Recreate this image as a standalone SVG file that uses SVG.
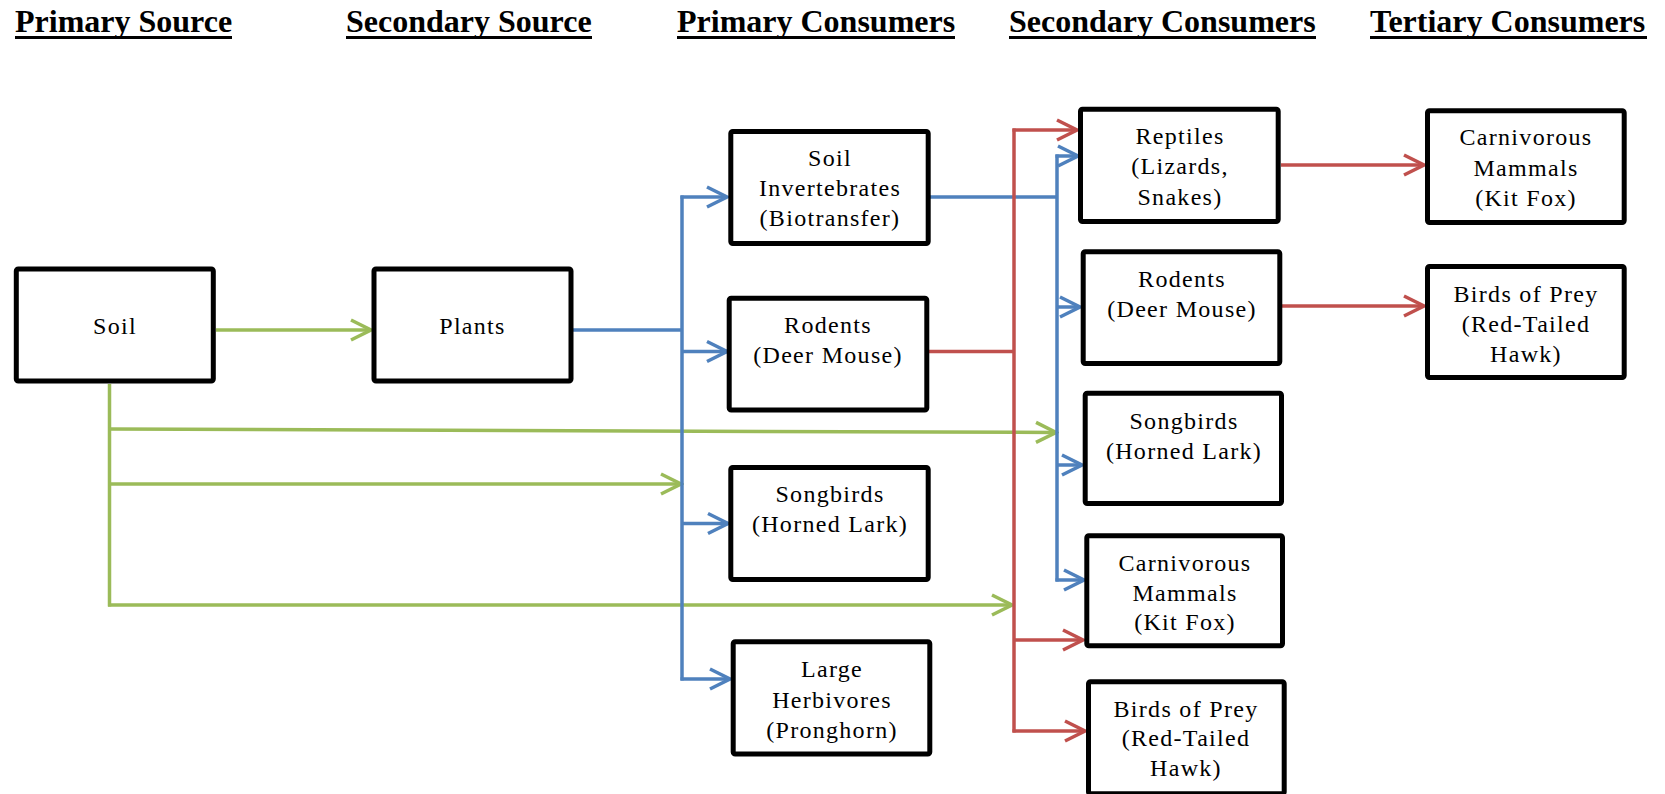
<svg xmlns="http://www.w3.org/2000/svg" width="1665" height="794" viewBox="0 0 1665 794">
<style>
.hdr{font-family:"Liberation Serif","Times New Roman",serif;font-size:32px;font-weight:bold;fill:#000}
.ul{stroke:#000;stroke-width:3}
.box{fill:#fff;stroke:#000;stroke-width:5}
.lbl{font-family:"Liberation Serif","Times New Roman",serif;font-size:24px;fill:#000;text-anchor:middle;letter-spacing:1.3px}
.g{stroke:#9BBB59;stroke-width:3.5;fill:none}
.b{stroke:#4F81BD;stroke-width:3.5;fill:none}
.r{stroke:#C0504D;stroke-width:3.5;fill:none}
</style>
<defs>
<marker id="ag" markerUnits="userSpaceOnUse" markerWidth="26" markerHeight="26" viewBox="-23 -13 26 26" refX="0" refY="0" orient="auto"><path d="M-20,-10 L0,0 L-20,10" fill="none" stroke="#9BBB59" stroke-width="3.5"/></marker>
<marker id="abl" markerUnits="userSpaceOnUse" markerWidth="26" markerHeight="26" viewBox="-23 -13 26 26" refX="0" refY="0" orient="auto"><path d="M-20,-10 L0,0 L-20,10" fill="none" stroke="#4F81BD" stroke-width="3.5"/></marker>
<marker id="ar" markerUnits="userSpaceOnUse" markerWidth="26" markerHeight="26" viewBox="-23 -13 26 26" refX="0" refY="0" orient="auto"><path d="M-20,-10 L0,0 L-20,10" fill="none" stroke="#C0504D" stroke-width="3.5"/></marker>
</defs>
<rect width="1665" height="794" fill="#fff"/>
<g id="headers">
<text class="hdr" x="15" y="32">Primary Source</text><line class="ul" x1="15" y1="37.5" x2="232" y2="37.5"/>
<text class="hdr" x="346" y="32">Secondary Source</text><line class="ul" x1="346" y1="37.5" x2="592" y2="37.5"/>
<text class="hdr" x="677" y="32">Primary Consumers</text><line class="ul" x1="677" y1="37.5" x2="955" y2="37.5"/>
<text class="hdr" x="1009" y="32">Secondary Consumers</text><line class="ul" x1="1009" y1="37.5" x2="1316" y2="37.5"/>
<text class="hdr" x="1370" y="32">Tertiary Consumers</text><line class="ul" x1="1370" y1="37.5" x2="1647" y2="37.5"/>
</g>
<g id="connectors">
<!-- green -->
<line class="g" x1="216" y1="330" x2="371" y2="330" marker-end="url(#ag)"/>
<line class="g" x1="109.5" y1="384" x2="109.5" y2="606.5"/>
<line class="g" x1="108" y1="429" x2="1056" y2="432.5" marker-end="url(#ag)"/>
<line class="g" x1="108" y1="484" x2="681" y2="484" marker-end="url(#ag)"/>
<line class="g" x1="108" y1="605" x2="1012" y2="605" marker-end="url(#ag)"/>
<!-- blue primary -->
<line class="b" x1="573" y1="330" x2="682" y2="330"/>
<line class="b" x1="682" y1="195.5" x2="682" y2="680.5"/>
<line class="b" x1="680.5" y1="197" x2="727" y2="197" marker-end="url(#abl)"/>
<line class="b" x1="682" y1="351.5" x2="727" y2="351.5" marker-end="url(#abl)"/>
<line class="b" x1="682" y1="523.5" x2="728" y2="523.5" marker-end="url(#abl)"/>
<line class="b" x1="680.5" y1="679" x2="730" y2="679" marker-end="url(#abl)"/>
<!-- blue secondary -->
<line class="b" x1="930" y1="197" x2="1057" y2="197"/>
<line class="b" x1="1057" y1="154.5" x2="1057" y2="581.5"/>
<line class="b" x1="1055.5" y1="156" x2="1078" y2="156" marker-end="url(#abl)"/>
<line class="b" x1="1057" y1="307" x2="1080" y2="307" marker-end="url(#abl)"/>
<line class="b" x1="1057" y1="465" x2="1082" y2="465" marker-end="url(#abl)"/>
<line class="b" x1="1055.5" y1="580" x2="1084" y2="580" marker-end="url(#abl)"/>
<!-- red -->
<line class="r" x1="929" y1="351.5" x2="1014" y2="351.5"/>
<line class="r" x1="1014" y1="128.5" x2="1014" y2="732.5"/>
<line class="r" x1="1012.5" y1="130" x2="1077" y2="130" marker-end="url(#ar)"/>
<line class="r" x1="1014" y1="640" x2="1083" y2="640" marker-end="url(#ar)"/>
<line class="r" x1="1012.5" y1="731" x2="1085" y2="731" marker-end="url(#ar)"/>
<line class="r" x1="1281" y1="165" x2="1424" y2="165" marker-end="url(#ar)"/>
<line class="r" x1="1282" y1="306" x2="1424" y2="306" marker-end="url(#ar)"/>
</g>
<g id="soil"><rect class="box" x="16.3" y="269" width="197" height="112" rx="2"/><text class="lbl" x="115" y="334">Soil</text></g>
<g id="plants"><rect class="box" x="374" y="269" width="197" height="112" rx="2"/><text class="lbl" x="472.5" y="334">Plants</text></g>
<g id="soil-invertebrates"><rect class="box" x="730.8" y="131.5" width="197.4" height="112" rx="2"/><text class="lbl" x="830" y="166">Soil<tspan x="830" dy="30">Invertebrates</tspan><tspan x="830" dy="30">(Biotransfer)</tspan></text></g>
<g id="rodents-1"><rect class="box" x="729.2" y="298.2" width="197.6" height="111.8" rx="2"/><text class="lbl" x="828" y="333">Rodents<tspan x="828" dy="30">(Deer Mouse)</tspan></text></g>
<g id="songbirds-1"><rect class="box" x="730.8" y="467.5" width="197.4" height="112" rx="2"/><text class="lbl" x="830" y="502">Songbirds<tspan x="830" dy="30">(Horned Lark)</tspan></text></g>
<g id="large-herbivores"><rect class="box" x="733.2" y="641.8" width="196.6" height="112.2" rx="2"/><text class="lbl" x="832" y="677">Large<tspan x="832" dy="30.5">Herbivores</tspan><tspan x="832" dy="30.5">(Pronghorn)</tspan></text></g>
<g id="reptiles"><rect class="box" x="1080.5" y="109.2" width="197.7" height="112.3" rx="2"/><text class="lbl" x="1180" y="143.5">Reptiles<tspan x="1180" dy="30.5">(Lizards,</tspan><tspan x="1180" dy="30.5">Snakes)</tspan></text></g>
<g id="rodents-2"><rect class="box" x="1083.2" y="251.8" width="196.6" height="111.7" rx="2"/><text class="lbl" x="1182" y="286.5">Rodents<tspan x="1182" dy="30">(Deer Mouse)</tspan></text></g>
<g id="songbirds-2"><rect class="box" x="1085.2" y="393.2" width="196.3" height="110.3" rx="2"/><text class="lbl" x="1184" y="429">Songbirds<tspan x="1184" dy="29.5">(Horned Lark)</tspan></text></g>
<g id="carnivorous-2"><rect class="box" x="1086.8" y="535.8" width="195.7" height="110" rx="2"/><text class="lbl" x="1185" y="571">Carnivorous<tspan x="1185" dy="29.5">Mammals</tspan><tspan x="1185" dy="29.5">(Kit Fox)</tspan></text></g>
<g id="birds-of-prey-2"><rect class="box" x="1088.5" y="681.8" width="195.7" height="112" rx="2"/><text class="lbl" x="1186" y="716.5">Birds of Prey<tspan x="1186" dy="29.5">(Red-Tailed</tspan><tspan x="1186" dy="29.5">Hawk)</tspan></text></g>
<g id="carnivorous-3"><rect class="box" x="1427.5" y="110.8" width="196.7" height="111.7" rx="2"/><text class="lbl" x="1526" y="145">Carnivorous<tspan x="1526" dy="30.5">Mammals</tspan><tspan x="1526" dy="30.5">(Kit Fox)</tspan></text></g>
<g id="birds-of-prey-3"><rect class="box" x="1427.5" y="266.5" width="196.7" height="111" rx="2"/><text class="lbl" x="1526" y="301.5">Birds of Prey<tspan x="1526" dy="30">(Red-Tailed</tspan><tspan x="1526" dy="30">Hawk)</tspan></text></g>
</svg>
